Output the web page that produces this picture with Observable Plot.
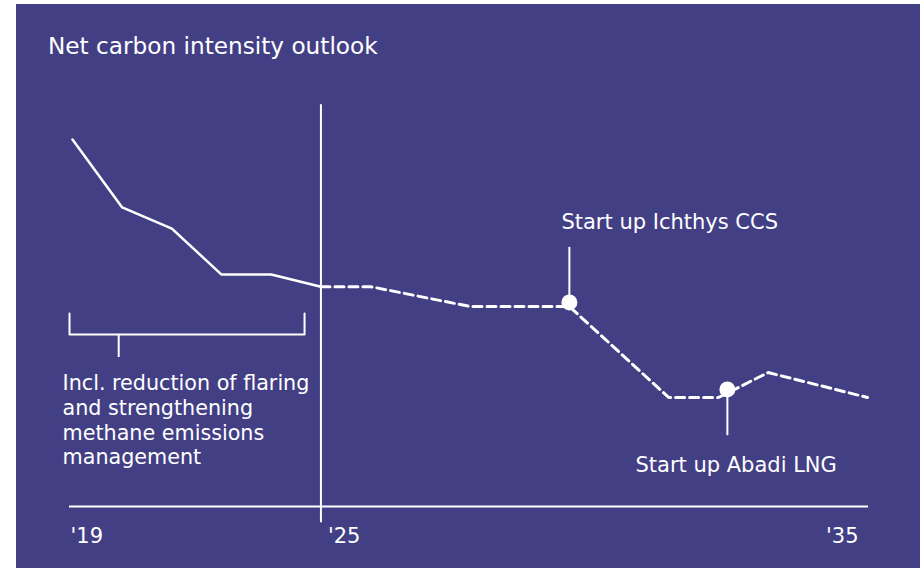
<!DOCTYPE html>
<html><head><meta charset="utf-8">
<script src="https://cdn.jsdelivr.net/npm/d3@7"></script>
<script src="https://cdn.jsdelivr.net/npm/@observablehq/plot@0.6"></script>
<style>
html,body{margin:0;background:#fff;}
#wrap{position:absolute;left:16px;top:4px;width:904px;height:564px;background:#433f85;overflow:hidden;font-family:"DejaVu Sans",sans-serif;color:#fff}
#title{position:absolute;left:32px;top:30px;font-size:23.2px;line-height:23px;white-space:nowrap}
#chart{position:absolute;left:0;top:70px}
</style></head>
<body>
<div id="wrap"><div id="title">Net carbon intensity outlook</div><div id="chart"></div></div>
<script>
// period index (0 = '19) and net carbon intensity (index, '19 = 100)
const actualX = [0, 1, 2, 3, 4, 5];
const actualY = [100, 81.5, 75.7, 63.2, 63.2, 59.9];
const outlookX = [5, 6, 8, 10, 12, 13, 14, 16];
const outlookY = [59.9, 59.9, 54.5, 54.5, 29.7, 29.7, 36.5, 29.7];

const milestoneLabels = ["Start up Ichthys CCS", "Start up Abadi LNG"];
const milestoneX = [10, 13.18];
const milestoneY = [55.6, 31.9];
const milestoneLabelX = [9.84, 11.33];
const milestoneLabelY = [77.4, 11.2];
const milestoneLeaderEnd = [70.6, 19.3];

const tickLabels = ["'19", "'25", "'35"];
const tickX = [0, 5, 16];
const tickAnchor = ["start", "start", "end"];
const tickDx = [-2, 7, -9];
const tickLabelY = -8.2;

const dividerX = 5, dividerTop = 109.5, dividerBottom = -4.4;

const bracketLeft = -0.06, bracketRight = 4.67, bracketTop = 52.6, bracketBase = 46.9;
const bracketStemX = 0.93, bracketStemEnd = 40.6;
const noteText = "Incl. reduction of flaring\nand strengthening\nmethane emissions\nmanagement";
const noteX = -0.2, noteY = 23.8;

const actual = actualX.map((x, i) => ({x, y: actualY[i]}));
const outlook = outlookX.map((x, i) => ({x, y: outlookY[i]}));
const milestones = milestoneLabels.map((label, i) => ({
  label, x: milestoneX[i], y: milestoneY[i],
  lx: milestoneLabelX[i], ly: milestoneLabelY[i], le: milestoneLeaderEnd[i]
}));
const bracket = [
  {x: bracketLeft, y: bracketTop}, {x: bracketLeft, y: bracketBase},
  {x: bracketRight, y: bracketBase}, {x: bracketRight, y: bracketTop}
];

const W = "white";
const font = "DejaVu Sans";
const tickMarks = tickLabels.map((t, i) =>
  Plot.text([{x: tickX[i], t}], {x: "x", y: () => tickLabelY, text: "t",
    textAnchor: tickAnchor[i], dx: tickDx[i], fontSize: 21, fill: W}));

const chart = Plot.plot({
  width: 904, height: 494,
  marginLeft: 56, marginRight: 53, marginTop: 65, marginBottom: 62,
  x: {domain: [0, 16], axis: null},
  y: {domain: [0, 100], axis: null},
  style: {background: "transparent", color: W, fontFamily: font, overflow: "visible"},
  marks: [
    Plot.ruleY([0], {stroke: W, strokeWidth: 2, insetLeft: -3, insetRight: -1}),
    Plot.ruleX([dividerX], {y1: dividerTop, y2: dividerBottom, stroke: W, strokeWidth: 2}),
    Plot.line(actual, {x: "x", y: "y", stroke: W, strokeWidth: 2.5}),
    Plot.line(outlook, {x: "x", y: "y", stroke: W, strokeWidth: 3, strokeDasharray: "9,5"}),
    Plot.line(bracket, {x: "x", y: "y", stroke: W, strokeWidth: 2, curve: "linear"}),
    Plot.ruleX([bracketStemX], {y1: bracketBase, y2: bracketStemEnd, stroke: W, strokeWidth: 2}),
    Plot.text([noteText], {x: () => noteX, y: () => noteY, text: d => d, textAnchor: "start",
      fontSize: 20.7, lineHeight: 1.2, fill: W}),
    Plot.ruleX(milestones, {x: "x", y1: "le", y2: "y", stroke: W, strokeWidth: 2}),
    Plot.dot(milestones, {x: "x", y: "y", r: 8, fill: W, stroke: "none"}),
    Plot.text(milestones, {x: "lx", y: "ly", text: "label", textAnchor: "start", fontSize: 21, fill: W}),
    ...tickMarks
  ]
});
document.getElementById("chart").appendChild(chart);
</script>
</body></html>
